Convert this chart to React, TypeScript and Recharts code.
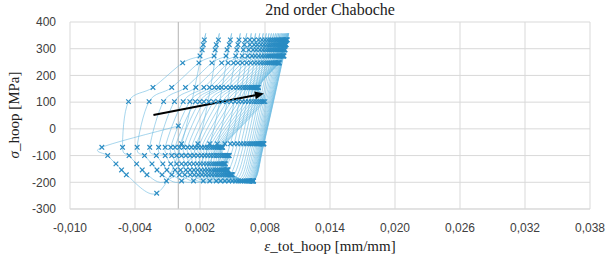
import React from 'react'
import {
  LineChart,
  Line,
  XAxis,
  YAxis,
  CartesianGrid,
  ReferenceLine,
} from 'recharts'

// stress level of every point in one cycle, in the order they are visited
const rowStress = [-69, -100, -131, -154, -172, -195, -56, 333, 315, 296, 273, 247, 155, 102]

// hoop strain per cycle, one list per stress level
const strainM69 = [-0.00706, -0.00515, -0.0038, -0.00264, -0.00182, -0.00121, -0.0007, -0.0003, 0.0001, 0.00049, 0.00086, 0.00121, 0.00154, 0.00185, 0.00214, 0.00241, 0.00266, 0.00289, 0.0031, 0.00329, 0.00346, 0.00361, 0.00374, 0.00385, 0.00394, 0.00401, 0.00406, 0.0041]
const strainM100 = [-0.00652, -0.00455, -0.00312, -0.00203, -0.00121, -0.00061, -0.00015, 0.0003, 0.0007, 0.00109, 0.00146, 0.00181, 0.00214, 0.00245, 0.00274, 0.00301, 0.00326, 0.00349, 0.0037, 0.00389, 0.00406, 0.00421, 0.00434, 0.00445, 0.00454, 0.00461, 0.00466, 0.0047]
const strainM131 = [-0.00576, -0.00385, -0.00243, -0.00143, -0.0007, -0.00015, 0.0003, 0.00068, 0.00105, 0.0014, 0.00173, 0.00204, 0.00233, 0.0026, 0.00285, 0.00308, 0.00329, 0.00348, 0.00365, 0.0038, 0.00393, 0.00404, 0.00413, 0.0042, 0.00425, 0.00429, 0.00432, 0.00434]
const strainM154 = [-0.00524, -0.00333, -0.00197, -0.00106, -0.0003, 0.0002, 0.0007, 0.00108, 0.00144, 0.00178, 0.0021, 0.0024, 0.00268, 0.00294, 0.00318, 0.0034, 0.0036, 0.00378, 0.00394, 0.00408, 0.0042, 0.0043, 0.00438, 0.00444, 0.00449, 0.00453, 0.00456, 0.00458]
const strainM172 = [-0.0048, -0.0029, -0.0015, -0.0006, 0.0001, 0.0006, 0.0011, 0.00148, 0.00184, 0.00218, 0.0025, 0.0028, 0.00308, 0.00334, 0.00358, 0.0038, 0.004, 0.00418, 0.00434, 0.00448, 0.0046, 0.0047, 0.00478, 0.00484, 0.00489, 0.00493, 0.00496, 0.00498]
const strainM195 = [-0.002, -0.0011, 0.0003, 0.0014, 0.0023, 0.0029, 0.0035, 0.0039, 0.0043, 0.00466, 0.00498, 0.00526, 0.00551, 0.00573, 0.00592, 0.00609, 0.00624, 0.00637, 0.00648, 0.00658, 0.00666, 0.00673, 0.00679, 0.00684, 0.00688, 0.00691, 0.00693, 0.00695]
const strainM56 = [0.0003, 0.0018, 0.0029, 0.0036, 0.0043, 0.0048, 0.00515, 0.00547, 0.00577, 0.00604, 0.00629, 0.00651, 0.00671, 0.00689, 0.00705, 0.00719, 0.00731, 0.00741, 0.0075, 0.00758, 0.00765, 0.00771, 0.00776, 0.0078, 0.00783, 0.00786, 0.00788, 0.0079]
const strain333 = [0.0024, 0.0037, 0.0048, 0.0056, 0.0062, 0.0066, 0.007, 0.0074, 0.00772, 0.008, 0.00825, 0.00847, 0.00867, 0.00885, 0.00901, 0.00915, 0.00928, 0.0094, 0.00951, 0.00961, 0.0097, 0.00978, 0.00985, 0.00991, 0.00996, 0.01, 0.01003, 0.01005]
const strain315 = [0.0023, 0.0035, 0.0047, 0.0055, 0.0061, 0.0066, 0.007, 0.0073, 0.00762, 0.0079, 0.00815, 0.00837, 0.00857, 0.00875, 0.00891, 0.00905, 0.00918, 0.0093, 0.00941, 0.00951, 0.0096, 0.00968, 0.00975, 0.00981, 0.00986, 0.0099, 0.00993, 0.00995]
const strain296 = [0.0022, 0.0034, 0.0045, 0.0054, 0.006, 0.0065, 0.0069, 0.0072, 0.00752, 0.0078, 0.00805, 0.00827, 0.00847, 0.00865, 0.00881, 0.00895, 0.00908, 0.0092, 0.00931, 0.00941, 0.0095, 0.00958, 0.00965, 0.00971, 0.00976, 0.0098, 0.00983, 0.00985]
const strain273 = [0.002, 0.0033, 0.0044, 0.0053, 0.0059, 0.0064, 0.0068, 0.0071, 0.00742, 0.0077, 0.00795, 0.00817, 0.00837, 0.00855, 0.00871, 0.00885, 0.00898, 0.0091, 0.00921, 0.00931, 0.0094, 0.00948, 0.00955, 0.00961, 0.00966, 0.0097, 0.00973, 0.00975]
const strain247 = [0.0004, 0.0019, 0.0031, 0.004, 0.0046, 0.0051, 0.0055, 0.0059, 0.0063, 0.00667, 0.00701, 0.00732, 0.0076, 0.00785, 0.00807, 0.00827, 0.00845, 0.00861, 0.00875, 0.00887, 0.00897, 0.00905, 0.00912, 0.00918, 0.00923, 0.00927, 0.0093, 0.00932]
const strain155 = [-0.00234, -0.00061, 0.00066, 0.00161, 0.00236, 0.00288, 0.00334, 0.0037, 0.004, 0.0044, 0.00477, 0.00511, 0.00542, 0.0057, 0.00595, 0.00617, 0.00637, 0.00655, 0.00671, 0.00685, 0.00697, 0.00707, 0.00715, 0.00722, 0.00728, 0.00733, 0.00737, 0.0074]
const strain102 = [-0.0046, -0.0027, -0.00136, -0.00036, 0.00045, 0.00106, 0.00157, 0.00197, 0.00236, 0.00281, 0.00325, 0.00368, 0.00409, 0.00449, 0.00487, 0.00523, 0.00557, 0.00589, 0.00619, 0.00647, 0.00673, 0.00697, 0.00719, 0.00739, 0.00757, 0.00773, 0.00787, 0.00799]

const rowStrain = [strainM69, strainM100, strainM131, strainM154, strainM172, strainM195, strainM56, strain333, strain315, strain296, strain273, strain247, strain155, strain102]

const startPoint = { x: 0, y: 11 }
const firstMinStress = -241 // first cycle goes deeper than the rest

const xTicks = [-0.01, -0.004, 0.002, 0.008, 0.014, 0.02, 0.026, 0.032, 0.038]
const yTicks = [-300, -200, -100, 0, 100, 200, 300, 400]

// ratcheting arrow
const arrowFrom = { x: -0.0023, y: 52 }
const arrowTo = { x: 0.0079, y: 132 }

const data: { x: number; y: number }[] = [startPoint]
for (let c = 0; c < strainM69.length; c++) {
  rowStrain.forEach((row, r) => {
    const y = r === 5 && c === 0 ? firstMinStress : rowStress[r]
    data.push({ x: row[c], y })
  })
}

// catmull-rom like smoothing, close to excel's smoothed lines
const smoothCurve = (context: any) => {
  let pts: number[][] = []
  return {
    areaStart() {},
    areaEnd() {},
    lineStart() {
      pts = []
    },
    point(x: number, y: number) {
      pts.push([+x, +y])
    },
    lineEnd() {
      if (!pts.length) return
      context.moveTo(pts[0][0], pts[0][1])
      for (let i = 0; i < pts.length - 1; i++) {
        const p0 = pts[i - 1] || pts[i]
        const p1 = pts[i]
        const p2 = pts[i + 1]
        const p3 = pts[i + 2] || p2
        context.bezierCurveTo(
          p1[0] + (p2[0] - p0[0]) / 6,
          p1[1] + (p2[1] - p0[1]) / 6,
          p2[0] - (p3[0] - p1[0]) / 6,
          p2[1] - (p3[1] - p1[1]) / 6,
          p2[0],
          p2[1]
        )
      }
    },
  }
}

const MARK = '#2a8cc3'

const renderCross = (props: any) => {
  const { cx, cy, index } = props
  if (cx == null || cy == null) return <g key={index} />
  const s = 2.3
  return (
    <path
      key={index}
      d={`M${cx - s},${cy - s}L${cx + s},${cy + s}M${cx - s},${cy + s}L${cx + s},${cy - s}`}
      stroke={MARK}
      strokeWidth={1.2}
      fill="none"
    />
  )
}

const renderArrow = (props: any) => {
  const { x1, y1, x2, y2 } = props
  const ang = Math.atan2(y2 - y1, x2 - x1)
  const len = 9
  const w = 4
  const bx = x2 - len * Math.cos(ang)
  const by = y2 - len * Math.sin(ang)
  const px = -Math.sin(ang) * w
  const py = Math.cos(ang) * w
  return (
    <g>
      <line x1={x1} y1={y1} x2={bx} y2={by} stroke="#000" strokeWidth={2} />
      <polygon points={`${x2},${y2} ${bx + px},${by + py} ${bx - px},${by - py}`} fill="#000" />
    </g>
  )
}

const fmtX = (v: number) => v.toFixed(3).replace('.', ',')

const serif = '"Liberation Serif", "Times New Roman", serif'
const sans = '"Liberation Sans", Arial, sans-serif'

export default function App() {
  return (
    <div style={{ position: 'absolute', left: 0, top: 0, width: 611, height: 262, background: '#fff' }}>
      <LineChart
        width={611}
        height={262}
        data={data}
        margin={{ top: 22, right: 21, bottom: 28, left: 10 }}
      >
        <CartesianGrid stroke="#d9d9d9" strokeWidth={1} />
        <XAxis
          type="number"
          dataKey="x"
          domain={[-0.01, 0.038]}
          ticks={xTicks}
          tickFormatter={fmtX}
          tickLine={false}
          axisLine={{ stroke: '#d9d9d9' }}
          tick={{ fill: '#404040', fontSize: 12, fontFamily: sans }}
          tickMargin={8}
          height={25}
          allowDataOverflow
        />
        <YAxis
          type="number"
          domain={[-300, 400]}
          ticks={yTicks}
          tickLine={false}
          axisLine={false}
          tick={{ fill: '#404040', fontSize: 12, fontFamily: sans }}
          tickMargin={8}
          width={60}
          allowDataOverflow
        />
        <ReferenceLine x={0} stroke="#bfbfbf" strokeWidth={1.2} />
        <Line
          dataKey="y"
          type={smoothCurve as any}
          stroke="#6cbbe0"
          strokeWidth={0.6}
          dot={renderCross}
          activeDot={false}
          isAnimationActive={false}
        />
        <ReferenceLine
          segment={[arrowFrom, arrowTo]}
          shape={renderArrow}
          ifOverflow="visible"
        />
      </LineChart>
      <div
        style={{
          position: 'absolute',
          left: 70,
          width: 520,
          top: 1,
          textAlign: 'center',
          fontFamily: serif,
          fontSize: 16,
          color: '#222',
        }}
      >
        2nd order Chaboche
      </div>
      <div
        style={{
          position: 'absolute',
          left: 70,
          width: 520,
          top: 238,
          textAlign: 'center',
          fontFamily: serif,
          fontSize: 15,
          color: '#222',
        }}
      >
        <i>ε</i>_tot_hoop [mm/mm]
      </div>
      <div
        style={{
          position: 'absolute',
          left: 14,
          top: 115,
          transform: 'translate(-50%, -50%) rotate(-90deg)',
          whiteSpace: 'nowrap',
          fontFamily: serif,
          fontSize: 15,
          color: '#222',
        }}
      >
        <i>σ</i>_hoop [MPa]
      </div>
    </div>
  )
}
